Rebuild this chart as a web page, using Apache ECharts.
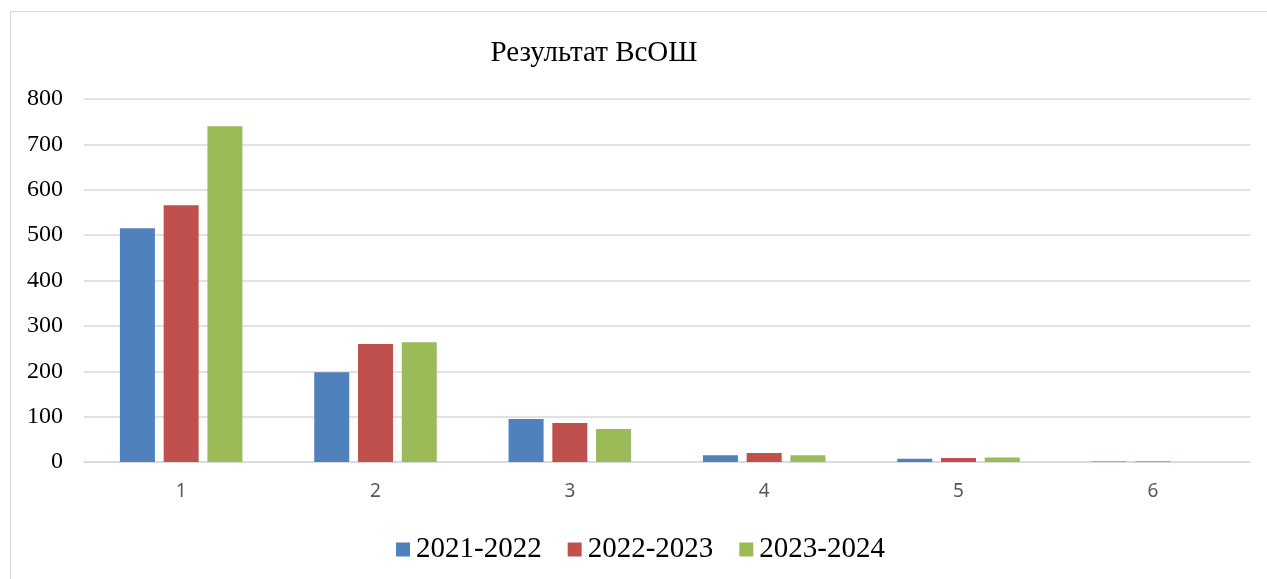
<!DOCTYPE html>
<html>
<head>
<meta charset="utf-8">
<script src="https://cdn.jsdelivr.net/npm/echarts@6/dist/echarts.min.js"></script>
<style>
  html, body { margin: 0; padding: 0; background: #fff; }
  #frame {
    position: absolute;
    left: 10px;
    top: 11px;
    width: 1300px;
    height: 620px;
    border: 1px solid #d9d9d9;
  }
  #chart { position: absolute; left: 0; top: 0; width: 1267px; height: 579px; }
</style>
</head>
<body>
<div id="frame"></div>
<div id="chart"></div>
<script>
// категории и значения
const categories = ['1', '2', '3', '4', '5', '6']
const seriesNames = ['2021-2022', '2022-2023', '2023-2024']
const values2122 = [515, 198, 95, 15, 7, 1]
const values2223 = [566, 260, 86, 20, 9, 1]
const values2324 = [740, 264, 73, 15, 10, 0]
const yTicks = [0, 100, 200, 300, 400, 500, 600, 700, 800]

const colors = ['#4f81bd', '#c0504d', '#9bbb59']

const chart = echarts.init(document.getElementById('chart'), null, { renderer: 'canvas' })

const allValues = [values2122, values2223, values2324]

const chartOption = {
  animation: false,
  color: colors,
  title: {
    text: 'Результат ВсОШ',
    left: 589,
    top: 34,
    textAlign: 'center',
    textStyle: {
      fontFamily: 'Liberation Serif',
      fontSize: 29,
      fontWeight: 'normal',
      color: '#000'
    }
  },
  legend: {
    top: 535,
    left: 396,
    itemWidth: 14,
    itemHeight: 14,
    itemGap: 26,
    icon: 'rect',
    padding: 0,
    textStyle: {
      fontFamily: 'Liberation Serif',
      fontSize: 29,
      color: '#000',
      padding: [0, 0, 0, 1]
    },
    data: seriesNames
  },
  grid: {
    left: 84,
    right: 17,
    top: 99,
    bottom: 117
  },
  xAxis: {
    type: 'category',
    data: categories,
    axisTick: { show: false },
    axisLine: { lineStyle: { color: '#d9d9d9', width: 1.5 } },
    axisLabel: {
      margin: 20,
      fontFamily: 'Noto Sans',
      fontSize: 19,
      color: '#595959'
    }
  },
  yAxis: {
    type: 'value',
    min: yTicks[0],
    max: yTicks[yTicks.length - 1],
    interval: 100,
    axisLine: { show: false },
    axisTick: { show: false },
    splitLine: { lineStyle: { color: '#d9d9d9', width: 1.5 } },
    axisLabel: {
      margin: 21,
      fontFamily: 'Liberation Serif',
      fontSize: 24,
      color: '#000'
    }
  },
  series: seriesNames.map((name, i) => {
    return {
      name: name,
      type: 'bar',
      data: allValues[i],
      barWidth: 35,
      barGap: '25%',
      barCategoryGap: '38%'
    }
  })
}

chart.setOption(chartOption)
</script>
</body>
</html>
